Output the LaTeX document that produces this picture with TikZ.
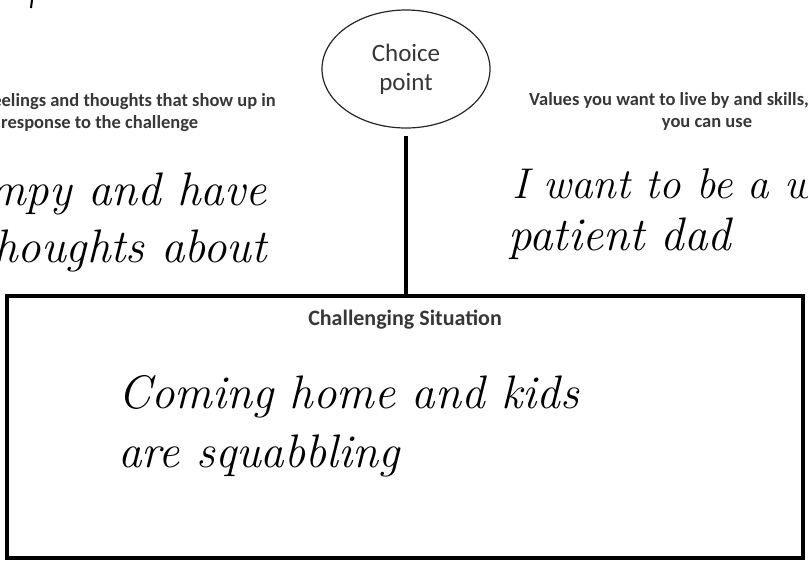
\documentclass[tikz,border=0pt]{standalone}
\usepackage{fontspec}
\newfontfamily\calibri{Carlito}
\usetikzlibrary{shapes.geometric}
\definecolor{labelgray}{RGB}{55,55,55}
\tikzset{
hdr/.style={font=\calibri\bfseries\fontsize{18.5}{22}\selectfont, text=labelgray, inner sep=0pt},
hand/.style={font=\itshape\fontsize{47}{54}\selectfont, inner sep=0pt},
}

\begin{document}
\begin{tikzpicture}[x=1pt,y=-1pt]
    \useasboundingbox (0,0) rectangle (808,563);
    \clip (0,0) rectangle (808,563);

    \node[ellipse, draw=black!85, line width=1.2pt, minimum width=168pt, minimum height=118pt, text=labelgray, align=center, font=\calibri\fontsize{25}{29}\selectfont] (choice) at (406,69) {Choice\\point};
    \node[draw, line width=3.6pt, minimum width=796pt, minimum height=262pt, inner sep=0pt] (situation) at (405,427) {};

    \draw[line width=3.2pt, shorten <=7pt] (choice.south) -- (choice.south |- situation.north);
    \draw[line width=2pt] (32,0) -- (31,8);

    \node[hdr, anchor=base east] (feel1) at (276,106) {Feelings and thoughts that show up in};
    \node[hdr, anchor=base west] (feel2) at (1,128) {response to the challenge};
    \node[hdr, anchor=base west] (values1) at (529,105) {Values you want to live by and skills,};
    \node[hdr, anchor=base] (values2) at (707,127) {you can use};
    \node[hdr, anchor=base, font=\calibri\bfseries\fontsize{22}{26}\selectfont] (sittitle) at (405,325) {Challenging Situation};

    \node[hand, anchor=base east] (grumpy1) at (267,205) {grumpy and have};
    \node[hand, anchor=base east] (grumpy2) at (267,262) {thoughts about};
    \node[hand, anchor=base west, font=\itshape\fontsize{43}{50}\selectfont] (want1) at (512,198) {I want to be a w};
    \node[hand, anchor=base west] (want2) at (508,250) {patient dad};
    \node[hand, anchor=base west] (coming1) at (118,408) {Coming home and kids};
    \node[hand, anchor=base west] (coming2) at (118,467) {are squabbling};

\end{tikzpicture}
\end{document}
